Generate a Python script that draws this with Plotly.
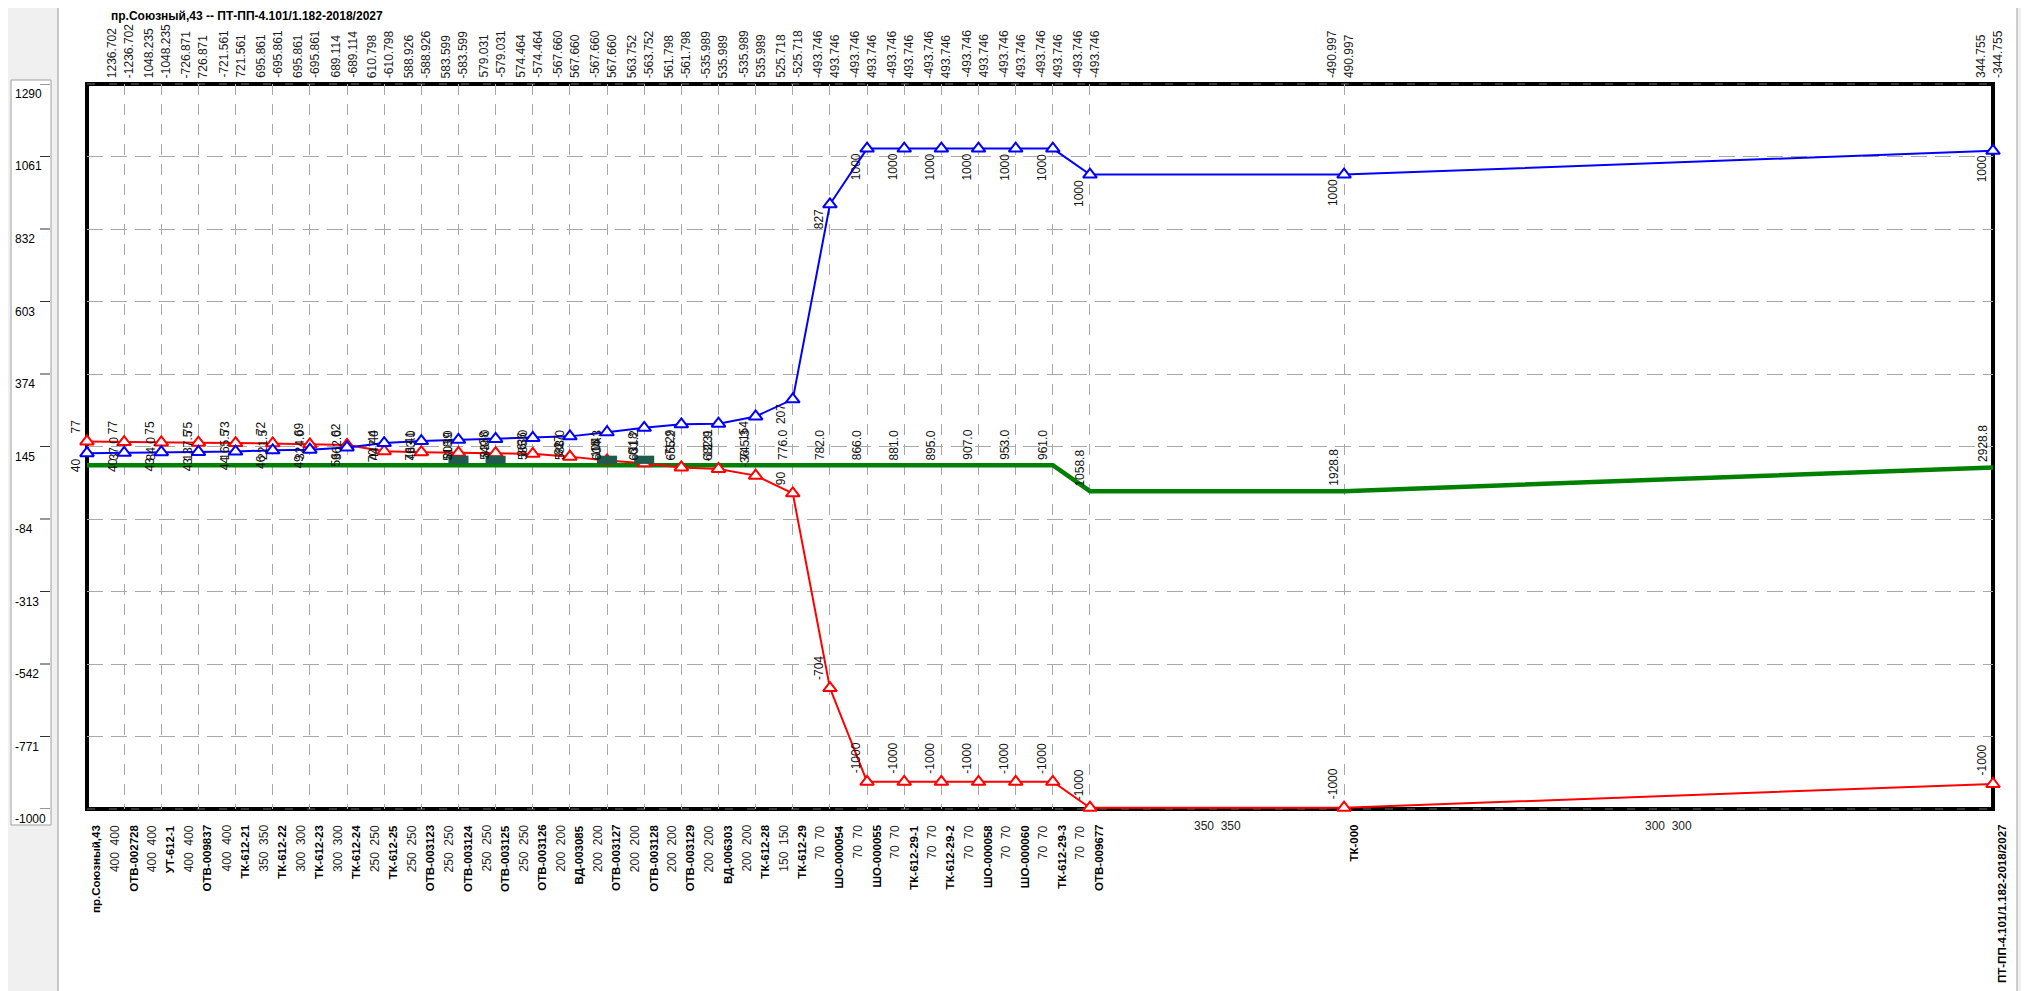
import plotly.graph_objects as go

W, H = 2029, 991
OFF = 8  # page body margin of the browser; coordinates are compensated
FW, FH = W - OFF, H - OFF
PL, PR, PT, PB = 87, 1993, 84, 809  # plot box in reference pixels

TITLE = "пр.Союзный,43 -- ПТ-ПП-4.101/1.182-2018/2027"

NODE_NAMES = [
    "пр.Союзный,43", "ОТВ-002728", "УТ-612-1", "ОТВ-009837", "ТК-612-21",
    "ТК-612-22", "ТК-612-23", "ТК-612-24", "ТК-612-25", "ОТВ-003123",
    "ОТВ-003124", "ОТВ-003125", "ОТВ-003126", "ВД-003085", "ОТВ-003127",
    "ОТВ-003128", "ОТВ-003129", "ВД-006303", "ТК-612-28", "ТК-612-29",
    "ШО-000054", "ШО-000055", "ТК-612-29-1", "ТК-612-29-2", "ШО-000058",
    "ШО-000060", "ТК-612-29-3", "ОТВ-009677", "ТК-000",
    "ПТ-ПП-4.101/1.182-2018/2027",
]
NODE_POS = [0, 1, 2, 3, 4, 5, 6, 7, 8, 9, 10, 11, 12, 13, 14, 15, 16, 17, 18,
            19, 20, 21, 22, 23, 24, 25, 26, 27, 33.84, 51.31]

SEG_DIAM = ["400", "400", "400", "400", "350", "300", "300", "250", "250",
            "250", "250", "250", "200", "200", "200", "200", "200", "200",
            "150", "70", "70", "70", "70", "70", "70", "70", "70", "350", "300"]

FLOW_A = ["1236.702", "1048.235", "-726.871", "-721.561", "695.861", "695.861",
          "689.114", "610.798", "588.926", "583.599", "579.031", "574.464",
          "-567.660", "-567.660", "563.752", "561.798", "-535.989", "-535.989",
          "525.718", "-493.746", "-493.746", "-493.746", "-493.746", "-493.746",
          "-493.746", "-493.746", "-493.746", "-490.997", "344.755"]
FLOW_B = ["-1236.702", "-1048.235", "726.871", "721.561", "-695.861", "-695.861",
          "-689.114", "-610.798", "-588.926", "-583.599", "-579.031", "-574.464",
          "567.660", "567.660", "-563.752", "-561.798", "535.989", "535.989",
          "-525.718", "493.746", "493.746", "493.746", "493.746", "493.746",
          "493.746", "493.746", "-493.746", "490.997", "-344.755"]

GROUND = [86] * 27 + [4, 4, 79]
SUPPLY_HEAD = [161, 159, 158, 157, 156, 155, 152, 150, 130, 127, 125, 124, 122,
               113, 101, 92, 79, 74, 53, -3, -618, -914, -914, -914, -914,
               -914, -914, -996, -996, -921]
RETURN_HEAD = [124, 125, 127, 128, 129, 133, 135, 142, 156, 162, 166, 169, 172,
               177, 190, 204, 215, 217, 240, 294, 910, 1086, 1086, 1086, 1086,
               1086, 1086, 1004, 1004, 1079]

SUPPLY_LABELS = ["77", "77", "75", "75", "73", "72", "69", "62", "44", "41",
                 "39", "38", "36", "27", "15", "6", "-7", "-12", "-36", "90",
                 "-704", "-1000", "-1000", "-1000", "-1000", "-1000", "-1000",
                 "-1000", "-1000", "-1000"]
RETURN_LABELS = ["40", "40", "43", "43", "44", "46", "49", "56", "70", "76",
                 "80", "83", "86", "91", "104", "118", "129", "131", "154", "207",
                 "827", "1000", "1000", "1000", "1000", "1000", "1000", "1000",
                 "1000", "1000"]
DIST_LABELS = ["", "37.0", "84.0", "137.5", "165.5", "221.5", "324.0", "362.0",
               "447.0", "483.0", "518.0", "549.0", "585.0", "588.0", "604.3",
               "631.2", "655.2", "682.9", "745.3", "776.0", "782.0", "866.0",
               "881.0", "895.0", "907.0", "953.0", "961.0", "1058.8", "1928.8",
               "2928.8"]

Y_TICKS = [1290, 1061, 832, 603, 374, 145, -84, -313, -542, -771, -1000]
MARK_NODES = [10, 11, 14, 15]

FONT = "Liberation Sans, Arial, sans-serif"


def px_x(p):
    return (p - OFF) / FW


def px_y(p):
    return 1 - (p - OFF) / FH


fig = go.Figure()
fig.add_trace(go.Scatter(x=NODE_POS, y=GROUND, mode="lines",
                         line=dict(color="#008000", width=4.5),
                         hoverinfo="skip", cliponaxis=False))
fig.add_trace(go.Scatter(x=NODE_POS, y=SUPPLY_HEAD, mode="lines+markers",
                         line=dict(color="#ff0000", width=2),
                         marker=dict(symbol="triangle-up", size=12, color="white",
                                     line=dict(color="#ff0000", width=2)),
                         hoverinfo="skip", cliponaxis=False))
fig.add_trace(go.Scatter(x=NODE_POS, y=RETURN_HEAD, mode="lines+markers",
                         line=dict(color="#0000ff", width=2),
                         marker=dict(symbol="triangle-up", size=12, color="white",
                                     line=dict(color="#0000ff", width=2)),
                         hoverinfo="skip", cliponaxis=False))

shapes = []
# left grey panel
shapes.append(dict(type="rect", xref="paper", yref="paper", x0=px_x(0), x1=px_x(58),
                   y0=0, y1=1, fillcolor="#f0f0f0", line=dict(width=0), layer="below"))
shapes.append(dict(type="line", xref="paper", yref="paper", x0=px_x(58), x1=px_x(58),
                   y0=0, y1=1, line=dict(color="#9a9a9a", width=1), layer="below"))
shapes.append(dict(type="rect", xref="paper", yref="paper", x0=px_x(11), x1=px_x(51),
                   y0=px_y(825), y1=px_y(80), fillcolor="white",
                   line=dict(color="#a0a0a0", width=1), layer="below"))
# right grey strip
shapes.append(dict(type="rect", xref="paper", yref="paper", x0=px_x(2017), x1=1,
                   y0=0, y1=1, fillcolor="#f0f0f0", line=dict(width=0), layer="below"))
shapes.append(dict(type="line", xref="paper", yref="paper", x0=px_x(2017), x1=px_x(2017),
                   y0=0, y1=1, line=dict(color="#a0a0a0", width=1), layer="below"))
# panel ticks
for v in Y_TICKS:
    shapes.append(dict(type="line", xref="paper", yref="y", x0=px_x(40), x1=px_x(50),
                       y0=v, y1=v, line=dict(color="#333333", width=1), layer="below"))
# plot border
shapes.append(dict(type="rect", xref="paper", yref="paper", x0=px_x(PL), x1=px_x(PR),
                   y0=px_y(PB), y1=px_y(PT), line=dict(color="black", width=4),
                   layer="below"))
for yy in (PT, PB):
    shapes.append(dict(type="line", xref="paper", yref="paper", x0=px_x(PL), x1=px_x(PR),
                       y0=px_y(yy), y1=px_y(yy),
                       line=dict(color="#6a6a6a", width=1, dash="8px,14px"), layer="below"))
# dark marks near the ground line
for i in MARK_NODES:
    shapes.append(dict(type="rect", xref="x", yref="y", x0=NODE_POS[i] - 0.27,
                       x1=NODE_POS[i] + 0.27, y0=GROUND[i] + 4, y1=GROUND[i] + 30,
                       fillcolor="#1f5a4c", line=dict(width=0), layer="above"))

ann = []
ann.append(dict(text="<b>" + TITLE + "</b>", xref="paper", yref="paper",
                x=px_x(110), y=px_y(8), xanchor="left", yanchor="top", borderpad=0,
                showarrow=False, font=dict(family=FONT, size=12, color="black")))
# y panel labels
for v in Y_TICKS:
    ann.append(dict(text=str(v), xref="paper", yref="y", x=px_x(13), y=v,
                    xanchor="left", yanchor="top", yshift=-1, showarrow=False,
                    font=dict(family=FONT, size=12, color="black")))
# top flow labels
for j in range(1, len(NODE_POS)):
    for txt, sh in ((FLOW_A[j - 1], -12), (FLOW_B[j - 1], 5)):
        ann.append(dict(text=txt, xref="x", yref="paper", x=NODE_POS[j], xshift=sh,
                        y=px_y(79), xanchor="center", yanchor="bottom", textangle=-90,
                        borderpad=0, showarrow=False,
                        font=dict(family=FONT, size=12, color="#1a1a1a")))
# bottom node names
for i, name in enumerate(NODE_NAMES):
    ann.append(dict(text="<b>" + name + "</b>", xref="x", yref="paper", x=NODE_POS[i],
                    xshift=9, y=px_y(823), xanchor="center", yanchor="top",
                    textangle=-90, showarrow=False,
                    font=dict(family=FONT, size=11.5, color="black")))
# diameters
for s, d in enumerate(SEG_DIAM):
    mid = (NODE_POS[s] + NODE_POS[s + 1]) / 2
    txt = d + "\u00a0\u00a0" + d
    if NODE_POS[s + 1] - NODE_POS[s] > 3:
        ann.append(dict(text=txt, xref="x", yref="paper", x=mid, y=px_y(826),
                        xanchor="center", yanchor="middle", showarrow=False,
                        font=dict(family=FONT, size=12, color="#222222")))
    else:
        ann.append(dict(text=txt, xref="x", yref="paper", x=mid, xshift=9,
                        y=px_y(823), xanchor="center", yanchor="top", textangle=-90,
                        showarrow=False, font=dict(family=FONT, size=12, color="#222222")))
# value labels on lines
for i in range(len(NODE_POS)):
    ann.append(dict(text=SUPPLY_LABELS[i], xref="x", yref="y", x=NODE_POS[i], xshift=-11,
                    y=SUPPLY_HEAD[i], yshift=6, xanchor="center", yanchor="bottom",
                    textangle=-90, showarrow=False,
                    font=dict(family=FONT, size=12, color="#111111")))
    ann.append(dict(text=RETURN_LABELS[i], xref="x", yref="y", x=NODE_POS[i], xshift=-11,
                    y=RETURN_HEAD[i], yshift=-3, xanchor="center", yanchor="top",
                    textangle=-90, showarrow=False,
                    font=dict(family=FONT, size=12, color="#111111")))
    if DIST_LABELS[i]:
        ann.append(dict(text=DIST_LABELS[i], xref="x", yref="y", x=NODE_POS[i], xshift=-10,
                        y=GROUND[i], yshift=3, xanchor="center", yanchor="bottom",
                        textangle=-90, showarrow=False,
                        font=dict(family=FONT, size=12, color="#111111")))

fig.update_layout(
    width=FW, height=FH, margin=dict(l=0, r=0, t=0, b=0),
    paper_bgcolor="white", plot_bgcolor="rgba(0,0,0,0)", showlegend=False,
    xaxis=dict(domain=[px_x(PL), px_x(PR)], range=[NODE_POS[0], NODE_POS[-1]],
               tickvals=NODE_POS[1:-1], showticklabels=False, ticks="",
               showgrid=True, gridcolor="#a8a8a8", gridwidth=1, griddash="11px,9px",
               zeroline=False, showline=False, fixedrange=True),
    yaxis=dict(domain=[px_y(PB), px_y(PT)], range=[Y_TICKS[-1], Y_TICKS[0]],
               tickvals=Y_TICKS[1:-1], showticklabels=False, ticks="",
               showgrid=True, gridcolor="#a8a8a8", gridwidth=1, griddash="16px,8px",
               zeroline=False, showline=False, fixedrange=True),
    shapes=shapes, annotations=ann,
)
fig.write_html("out.html")
